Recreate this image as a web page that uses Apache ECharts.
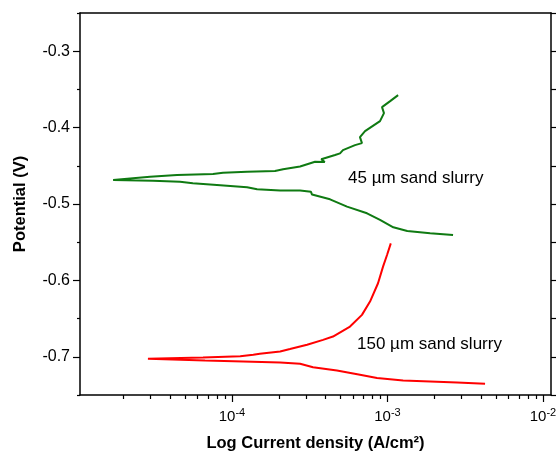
<!DOCTYPE html>
<html>
<head>
<meta charset="utf-8">
<script src="https://cdn.jsdelivr.net/npm/echarts@6/dist/echarts.min.js"></script>
<style>html,body{margin:0;padding:0;background:#fff}#c{width:556px;height:453px}</style>
</head>
<body>
<div id="c"></div>
<script>
// 45 µm sand slurry: cathodic end -> Ecorr -> anodic end
const current45 = [2.64e-3,1.88e-3,1.34e-3,1.09e-3,8.95e-4,7.38e-4,5.49e-4,4.27e-4,3.27e-4,3.22e-4,2.74e-4,2.04e-4,1.45e-4,1.25e-4,8.0e-5,5.6e-5,4.63e-5,3.1e-5,1.72e-5,
  2.97e-5,4.43e-5,7.55e-5,8.75e-5,1.25e-4,1.89e-4,2.13e-4,2.74e-4,3.42e-4,3.95e-4,3.75e-4,4.60e-4,4.95e-4,5.17e-4,6.18e-4,6.85e-4,6.65e-4,7.17e-4,8.95e-4,9.49e-4,9.22e-4,1.04e-3,1.17e-3];
const potential45 = [-0.5405,-0.5383,-0.5353,-0.5305,-0.5209,-0.5122,-0.5035,-0.4939,-0.4876,-0.4840,-0.4824,-0.4824,-0.4808,-0.4782,-0.4752,-0.4729,-0.4708,-0.4695,-0.4686,
  -0.4643,-0.4621,-0.4608,-0.4591,-0.4578,-0.4569,-0.4546,-0.4510,-0.4447,-0.4450,-0.4415,-0.4359,-0.4337,-0.4294,-0.4229,-0.4203,-0.4124,-0.4046,-0.3915,-0.3810,-0.3732,-0.3654,-0.3575];
// 150 µm sand slurry
const current150 = [4.24e-3,2.80e-3,1.88e-3,1.26e-3,8.56e-4,6.65e-4,4.73e-4,3.32e-4,2.74e-4,2.04e-4,1.18e-4,6.71e-5,2.88e-5,
  6.51e-5,1.13e-4,1.37e-4,1.51e-4,2.04e-4,2.36e-4,3.04e-4,3.85e-4,4.46e-4,5.74e-4,6.85e-4,7.72e-4,8.69e-4,9.36e-4,9.93e-4,1.05e-3];
const potential150 = [-0.7353,-0.7336,-0.7323,-0.7310,-0.7278,-0.7235,-0.7179,-0.7137,-0.7092,-0.7075,-0.7061,-0.7048,-0.7026,
  -0.7009,-0.6993,-0.6974,-0.6961,-0.6931,-0.6899,-0.6843,-0.6778,-0.6735,-0.6604,-0.6451,-0.6277,-0.6037,-0.5820,-0.5667,-0.5516];

const xExpMajor = [-4, -3, -2];           // 10^-4, 10^-3, 10^-2
const yMajor = [-0.7, -0.6, -0.5, -0.4, -0.3];
const yMinor = [-0.75, -0.65, -0.55, -0.45, -0.35, -0.25];
const seriesNames = ['45 µm sand slurry', '150 µm sand slurry'];

const xMin = -4.9775, xMax = -1.9486;     // log10 range of the current axis
const yMin = -0.75, yMax = -0.25;

const xMinor = [];
for (let n = -5; n <= -2; n++) for (let k = 2; k <= 9; k++) {
  const v = Math.log10(k * Math.pow(10, n));
  if (v > xMin && v < xMax) xMinor.push(v);
}
const toData = (cur, pot) => cur.map((c, i) => [Math.log10(c), pot[i]]);

const FONT = '"Liberation Sans", Arial, sans-serif';
const lineStyle = { color: '#000', width: 1.5 };

const chart = echarts.init(document.getElementById('c'), null, { renderer: 'canvas' });
chart.setOption({
  animation: false,
  backgroundColor: '#fff',
  grid: { left: 80, top: 13, right: 5, bottom: 58, containLabel: false, outerBoundsMode: 'none' },
  xAxis: [
    { type: 'value', min: xMin, max: xMax, position: 'bottom',
      axisLine: { show: true, lineStyle }, splitLine: { show: false },
      axisTick: { show: true, inside: false, length: 7, lineStyle: { color: '#000', width: 1.2 }, customValues: xExpMajor },
      axisLabel: { show: true, margin: 12, customValues: xExpMajor, fontFamily: FONT, color: '#000',
        formatter: v => '{b|10}{s|' + Math.round(v) + '}',
        rich: { b: { fontSize: 15, fontFamily: FONT, color: '#000' }, s: { fontSize: 11, fontFamily: FONT, color: '#000', padding: [0, 0, 9, 0] } } },
      name: 'Log Current density (A/cm²)', nameLocation: 'middle', nameGap: 40,
      nameTextStyle: { fontFamily: FONT, fontWeight: 'bold', fontSize: 16.5, color: '#000' } },
    { type: 'value', min: xMin, max: xMax, position: 'bottom',
      axisLine: { show: false }, splitLine: { show: false },
      axisTick: { show: true, length: 4, lineStyle: { color: '#000', width: 1.2 }, customValues: xMinor },
      axisLabel: { show: false } },
    { type: 'value', min: xMin, max: xMax, position: 'top',
      axisLine: { show: true, lineStyle }, splitLine: { show: false },
      axisTick: { show: false }, axisLabel: { show: false } }
  ],
  yAxis: [
    { type: 'value', min: yMin, max: yMax, position: 'left',
      axisLine: { show: true, lineStyle }, splitLine: { show: false },
      axisTick: { show: true, length: 7, lineStyle: { color: '#000', width: 1.2 }, customValues: yMajor },
      axisLabel: { show: true, margin: 10, customValues: yMajor, fontFamily: FONT, fontSize: 16, color: '#000',
        formatter: v => v.toFixed(1) },
      name: 'Potential (V)', nameLocation: 'middle', nameGap: 51, nameRotate: 90,
      nameTextStyle: { fontFamily: FONT, fontWeight: 'bold', fontSize: 16.5, color: '#000' } },
    { type: 'value', min: yMin, max: yMax, position: 'left',
      axisLine: { show: false }, splitLine: { show: false },
      axisTick: { show: true, length: 3, lineStyle: { color: '#000', width: 1.2 }, customValues: yMinor },
      axisLabel: { show: false } },
    { type: 'value', min: yMin, max: yMax, position: 'right',
      axisLine: { show: true, lineStyle }, splitLine: { show: false },
      axisTick: { show: true, length: 5, lineStyle: { color: '#000', width: 1.2 }, customValues: yMajor.concat(yMinor) },
      axisLabel: { show: false } }
  ],
  series: [
    { name: seriesNames[0], type: 'line', xAxisIndex: 0, yAxisIndex: 0, showSymbol: false, symbol: 'none',
      lineStyle: { color: '#0f7a12', width: 2 }, data: toData(current45, potential45) },
    { name: seriesNames[1], type: 'line', xAxisIndex: 0, yAxisIndex: 0, showSymbol: false, symbol: 'none',
      lineStyle: { color: '#ff0000', width: 2 }, data: toData(current150, potential150) }
  ],
  graphic: [
    { type: 'text', left: 348, top: 170, style: { text: seriesNames[0], font: '17px ' + FONT, fill: '#000' } },
    { type: 'text', left: 357, top: 336, style: { text: seriesNames[1], font: '17px ' + FONT, fill: '#000' } }
  ]
});
</script>
</body>
</html>
